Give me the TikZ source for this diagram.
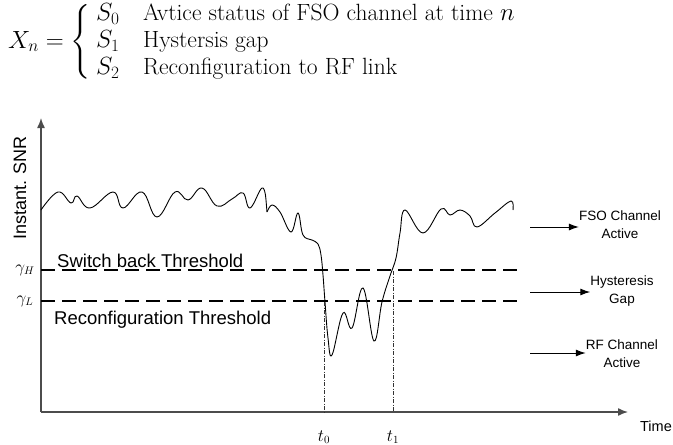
\documentclass[tikz,border=0pt]{standalone}
\usepackage{amsmath}
\usepackage{fontspec}
\newfontfamily\arial{Liberation Sans}
\usetikzlibrary{arrows.meta}
\begin{document}
\begin{tikzpicture}[x=1pt,y=-1pt,
  axis/.style={line width=1.4pt, draw=black!70, -{Latex[length=10pt,width=8pt]}},
  thresh/.style={line width=1.3pt, dash pattern=on 14pt off 7pt},
  marker/.style={line width=0.6pt, dash pattern=on 4pt off 1.5pt on 1pt off 1.5pt, draw=black!80},
  sigcurve/.style={line width=0.9pt},
  lbl/.style={font=\arial\fontsize{18.5}{22}\selectfont, inner sep=0pt},
  side/.style={font=\arial\fontsize{13.5}{16}\selectfont, align=center, inner sep=0pt},
  pointer/.style={line width=1pt, -{Latex[length=10pt,width=7pt]}},
  mlbl/.style={font=\fontsize{16}{18}\selectfont, inner sep=0pt},
]
\useasboundingbox (0,0) rectangle (673,445);

% header
\node[anchor=west, inner sep=0pt] (hdr) at (8,42) {\fontsize{23.5}{27}\selectfont
  \delimiterfactor=1000 \delimitershortfall=0pt
  $X_n = \left\{\vcenter{\hbox{\rule{0pt}{64pt}}}\right.
  \renewcommand{\arraystretch}{1}\begin{array}{@{}l@{\quad}l@{}} S_0 & \text{Avtice status of FSO channel at time } n\\
  S_1 & \text{Hystersis gap}\\
  S_2 & \text{Reconfiguration to RF link}\end{array}$};

% axes
\coordinate (O) at (41,412);
\coordinate (ytip) at (41,118);
\coordinate (xtip) at (628,412);
\draw[axis] (O) -- (ytip);
\draw[axis] (O) -- (xtip);
\node[lbl, rotate=90, font=\arial\fontsize{18}{20}\selectfont] (ylab) at (20,188) {Instant. SNR};
\node[side, font=\arial\fontsize{14.5}{16}\selectfont] (xlab) at (656,426) {Time};

% thresholds
\coordinate (hL) at (41,270);
\coordinate (hR) at (518,270);
\coordinate (lL) at (41,301);
\coordinate (lR) at (518,301);
\draw[thresh] (hL) -- (hR);
\draw[thresh] (lL) -- (lR);
\node[lbl, anchor=base west] (swb) at (57,267) {Switch back Threshold};
\node[lbl, anchor=base west] (rcf) at (54,324) {Reconfiguration Threshold};
\node[mlbl] (gH) at (25,270) {$\gamma_H$};
\node[mlbl] (gL) at (25,301) {$\gamma_L$};

% signal
\draw[sigcurve] plot[smooth, tension=0.7] coordinates {(41,210) (58,192) (71,203) (77,196) (90,208) (113,192) (123,208) (142,192) (157,217) (175,192) (188,200) (202,188) (217,206) (232,199) (243,193) (250,208) (262,188) (266,200)};
\draw[sigcurve] (266,200) -- (267,212);
\draw[sigcurve] plot[smooth, tension=0.65] coordinates {(267,212) (272,205) (280,212) (291,232) (298,213) (303,235) (312,240) (318,244) (321,255) (323,275) (325,302) (328,338) (332,355) (343,313) (352,328) (363,288) (374,341) (382,302) (390,276) (396,258) (400,233) (405,210) (423,233) (441,209) (450,215) (460,210) (470,216) (477,227) (495,213) (511,201) (513,210)};

% time markers
\coordinate (t0top) at (324,302);
\coordinate (t0bot) at (324,412);
\coordinate (t1top) at (393,271);
\coordinate (t1bot) at (393,412);
\draw[marker] (t0top) -- (t0bot);
\draw[marker] (t1top) -- (t1bot);
\node[mlbl] (t0) at (324,437) {$t_0$};
\node[mlbl] (t1) at (393,437) {$t_1$};

% side labels
\node[side] (fso) at (620,225) {FSO Channel\\[2pt]Active};
\node[side] (hyst) at (622,291) {Hysteresis\\[2pt]Gap};
\node[side] (rf) at (622,354) {RF Channel\\[2pt]Active};
\coordinate (a1) at (530,227);
\coordinate (a2) at (530,292);
\coordinate (a3) at (530,353);
\draw[pointer] (a1) -- (a1 -| fso.west);
\draw[pointer] (a2) -- (a2 -| hyst.west);
\draw[pointer] (a3) -- (a3 -| rf.west);
\end{tikzpicture}
\end{document}
